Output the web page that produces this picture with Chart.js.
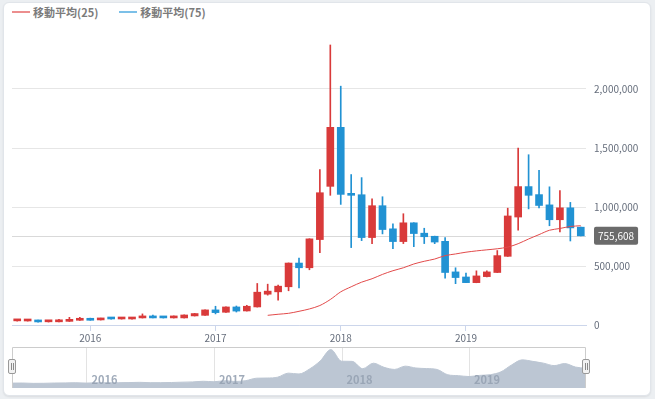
<!DOCTYPE html>
<html lang="ja">
<head>
<meta charset="utf-8">
<script src="https://cdn.jsdelivr.net/npm/chart.js@4.4.1/dist/chart.umd.min.js"></script>
<style>
  html, body { margin: 0; padding: 0; }
  body {
    width: 655px; height: 399px; position: relative; overflow: hidden;
    background: #eceff2;
    font-family: 'Noto Sans CJK JP', 'Noto Sans', sans-serif;
  }
  .card {
    position: absolute; left: 3px; top: 2px; width: 646px; height: 392px;
    background: #fff; border: 1px solid #e1e5ea; border-radius: 6px;
    box-shadow: 0 1px 2px rgba(0, 0, 0, 0.08);
  }
  #legend {
    position: absolute; left: 12px; top: 4px; height: 16px; display: flex;
    font-size: 11px; font-weight: bold; color: #7b7b7b; line-height: 16px;
  }
  .legend-item { display: flex; align-items: center; margin-right: 21px; }
  .legend-line { width: 18px; height: 2px; margin-right: 3px; }
  #mainChart { position: absolute; left: 0; top: 0; }
  #navChart { position: absolute; left: 12px; top: 347px; }
  .handle {
    position: absolute; top: 359px; width: 8px; height: 15px; box-sizing: border-box;
    background: #f2f2f2; border: 1px solid #999; border-radius: 2px;
  }
  .handle::before, .handle::after {
    content: ''; position: absolute; top: 3px; width: 1px; height: 7px; background: #8a8a8a;
  }
  .handle::before { left: 2px; }
  .handle::after { left: 4px; }
</style>
</head>
<body>
<div class="card"></div>
<div id="legend"></div>
<canvas id="mainChart" width="655" height="347"></canvas>
<canvas id="navChart" width="574" height="41"></canvas>
<div class="handle" style="left: 8px;"></div>
<div class="handle" style="left: 582px;"></div>

<script>
// Monthly candles, 2015/06 - 2019/12
const months = [
    '2015/06', '2015/07', '2015/08', '2015/09', '2015/10', '2015/11', '2015/12',
    '2016/01', '2016/02', '2016/03', '2016/04', '2016/05', '2016/06', '2016/07', '2016/08', '2016/09', '2016/10', '2016/11', '2016/12',
    '2017/01', '2017/02', '2017/03', '2017/04', '2017/05', '2017/06', '2017/07', '2017/08', '2017/09', '2017/10', '2017/11', '2017/12',
    '2018/01', '2018/02', '2018/03', '2018/04', '2018/05', '2018/06', '2018/07', '2018/08', '2018/09', '2018/10', '2018/11', '2018/12',
    '2019/01', '2019/02', '2019/03', '2019/04', '2019/05', '2019/06', '2019/07', '2019/08', '2019/09', '2019/10', '2019/11', '2019/12'
];

const opens = [
    35000, 34000, 40000, 27000, 27000, 31000, 40000,
    57000, 43000, 57000, 51000, 51000, 60000, 77000, 65000, 60000, 60000, 77000, 82000,
    128000, 108000, 153000, 119000, 153000, 261000, 281000, 324000, 525000, 485000, 724000, 1175000,
    1675000, 1116000, 1104000, 741000, 1011000, 815000, 707000, 866000, 778000, 752000, 709000, 450000,
    407000, 359000, 410000, 445000, 582000, 915000, 1173000, 1105000, 1018000, 892000, 993000, 829000
];
const highs = [
    39000, 48000, 41000, 31000, 48000, 65000, 65000,
    58000, 58000, 58000, 58000, 66000, 94000, 85000, 66000, 77000, 86000, 98000, 129000,
    159000, 153000, 161000, 167000, 352000, 346000, 338000, 526000, 568000, 731000, 1317000, 2373000,
    2024000, 1275000, 1249000, 1070000, 1087000, 857000, 943000, 867000, 820000, 753000, 740000, 485000,
    439000, 459000, 459000, 631000, 990000, 1500000, 1443000, 1311000, 1171000, 1139000, 1039000, 830000
];
const lows = [
    33000, 33000, 25000, 25000, 26000, 30000, 39000,
    40000, 42000, 50000, 50000, 50000, 59000, 59000, 59000, 59000, 59000, 76000, 81000,
    94000, 107000, 110000, 118000, 152000, 253000, 210000, 290000, 315000, 468000, 613000, 1099000,
    1022000, 656000, 715000, 690000, 772000, 647000, 690000, 664000, 690000, 689000, 396000, 350000,
    358000, 358000, 407000, 444000, 581000, 803000, 984000, 993000, 841000, 789000, 712000, 755000
];
const closes = [
    38000, 43000, 26000, 30000, 43000, 48000, 57000,
    40000, 57000, 51000, 57000, 65000, 77000, 60000, 60000, 68000, 85000, 97000, 128000,
    105000, 153000, 118000, 159000, 278000, 287000, 329000, 525000, 485000, 730000, 1121000, 1675000,
    1107000, 1099000, 741000, 1011000, 809000, 707000, 866000, 775000, 748000, 703000, 445000, 402000,
    359000, 416000, 450000, 588000, 924000, 1173000, 1099000, 1013000, 892000, 993000, 823000, 755608
];

// moving averages as drawn (MA75 has no points in this range)
const ma25 = [
    null, null, null, null, null, null, null,
    null, null, null, null, null, null, null, null, null, null, null, null,
    null, null, null, null, null, 82000, 91000, 99000, 116000, 136000, 165000, 216000,
    281000, 324000, 363000, 392000, 429000, 460000, 485000, 517000, 540000, 559000, 588000, 602000,
    617000, 628000, 637000, 646000, 660000, 689000, 729000, 766000, 803000, 818000, 835000, 841000
];
const ma75 = months.map(() => null);

const yTicks = [0, 500000, 1000000, 1500000, 2000000];

const upColor = '#d93a3a';
const downColor = '#2192d3';
const lastPrice = closes[closes.length - 1];
const fontFamily = "'Noto Sans CJK JP', 'Noto Sans', sans-serif";

Chart.defaults.font.family = fontFamily;

const isJan = i => months[i] && months[i].endsWith('/01');
const yearOf = i => months[i].slice(0, 4);
const fmt = v => v.toLocaleString('en-US');

const candleColors = opens.map((o, i) => closes[i] >= o ? upColor : downColor);
const wickData = lows.map((l, i) => [l, highs[i]]);
const bodyData = opens.map((o, i) => [Math.min(o, closes[i]), Math.max(o, closes[i])]);

// current price line + label on the right axis
const lastPricePlugin = {
    id: 'lastPrice',
    beforeDatasetsDraw(chart) {
        const { ctx, chartArea, scales: { y } } = chart;
        const py = Math.round(y.getPixelForValue(lastPrice)) + 0.5;
        ctx.save();
        ctx.strokeStyle = '#d9d9d9';
        ctx.lineWidth = 1;
        ctx.beginPath();
        ctx.moveTo(chartArea.left, py);
        ctx.lineTo(chartArea.right, py);
        ctx.stroke();
        ctx.restore();
    },
    afterDraw(chart) {
        const { ctx, chartArea, scales: { y } } = chart;
        const py = y.getPixelForValue(lastPrice);
        const text = fmt(lastPrice);
        ctx.save();
        ctx.font = '10px ' + fontFamily;
        const w = ctx.measureText(text).width + 8;
        const x = chartArea.right + 8;
        ctx.fillStyle = '#6b6b6b';
        ctx.beginPath();
        ctx.roundRect(x, py - 9, w, 18, 2);
        ctx.fill();
        ctx.fillStyle = '#ffffff';
        ctx.textBaseline = 'middle';
        ctx.fillText(text, x + 4, py + 0.5);
        ctx.restore();
    }
};

const mainChart = new Chart(document.getElementById('mainChart'), {
    type: 'bar',
    data: {
        labels: months,
        datasets: [
            {
                type: 'line',
                label: '移動平均(25)',
                data: ma25,
                borderColor: '#e24a4a',
                borderWidth: 1,
                pointRadius: 0,
                tension: 0.3,
                order: 0,
                legendColor: '#ec8e8e'
            },
            {
                type: 'line',
                label: '移動平均(75)',
                data: ma75,
                borderColor: '#2192d3',
                borderWidth: 1,
                pointRadius: 0,
                order: 0,
                legendColor: '#7cc0e8'
            },
            {
                label: 'body',
                data: bodyData,
                backgroundColor: candleColors,
                barThickness: 7,
                minBarLength: 2,
                grouped: false,
                order: 1
            },
            {
                label: 'wick',
                data: wickData,
                backgroundColor: candleColors,
                barThickness: 1,
                grouped: false,
                order: 2
            }
        ]
    },
    options: {
        responsive: false,
        animation: false,
        devicePixelRatio: 1,
        layout: { padding: { left: 12, top: 30, right: 0, bottom: 0 } },
        plugins: {
            legend: { display: false },
            tooltip: { enabled: false }
        },
        scales: {
            x: {
                offset: true,
                border: { color: '#ccd6eb', width: 1 },
                grid: {
                    offset: false,
                    drawOnChartArea: false,
                    drawTicks: true,
                    tickLength: 6,
                    color: ctx => isJan(ctx.index) ? '#ccd6eb' : 'rgba(0,0,0,0)'
                },
                ticks: {
                    autoSkip: false,
                    maxRotation: 0,
                    padding: 1,
                    color: '#666e7c',
                    font: { size: 10 },
                    callback: (v, i) => isJan(i) ? yearOf(i) : ''
                },
                afterFit: s => { s.height = 22; }
            },
            y: {
                position: 'right',
                min: 0,
                max: 2500000,
                border: { display: false },
                grid: { color: '#e6e6e6', drawTicks: false },
                ticks: {
                    padding: 8,
                    color: '#666e7c',
                    font: { size: 10 },
                    callback: v => fmt(v)
                },
                afterBuildTicks: s => { s.ticks = yTicks.map(v => ({ value: v })); },
                afterFit: s => { s.width = 69; }
            }
        }
    },
    plugins: [lastPricePlugin]
});

// html legend from the line datasets
const legendEl = document.getElementById('legend');
legendEl.innerHTML = mainChart.data.datasets
    .filter(ds => ds.type === 'line')
    .map(ds => `
        <div class="legend-item">
            <span class="legend-line" style="background:${ds.legendColor}"></span>
            <span>${ds.label}</span>
        </div>
    `).join('');

// navigator: year grid, year labels and outline
const navigatorPlugin = {
    id: 'navigator',
    beforeDatasetsDraw(chart) {
        const { ctx, chartArea, scales: { x } } = chart;
        ctx.save();
        ctx.strokeStyle = '#e3e3e3';
        ctx.lineWidth = 1;
        months.forEach((m, i) => {
            if (!isJan(i)) return;
            const px = Math.round(x.getPixelForValue(i)) + 0.5;
            ctx.beginPath();
            ctx.moveTo(px, chartArea.top);
            ctx.lineTo(px, chartArea.bottom);
            ctx.stroke();
        });
        ctx.restore();
    },
    afterDraw(chart) {
        const { ctx, chartArea, scales: { x } } = chart;
        ctx.save();
        ctx.font = 'bold 11px ' + fontFamily;
        ctx.fillStyle = 'rgba(150, 162, 178, 0.9)';
        ctx.textBaseline = 'alphabetic';
        months.forEach((m, i) => {
            if (!isJan(i)) return;
            ctx.fillText(yearOf(i), x.getPixelForValue(i) + 5, chartArea.bottom - 4);
        });
        ctx.strokeStyle = '#cccccc';
        ctx.lineWidth = 1;
        ctx.beginPath();
        ctx.moveTo(0.5, chart.height);
        ctx.lineTo(0.5, 0.5);
        ctx.lineTo(chart.width - 0.5, 0.5);
        ctx.lineTo(chart.width - 0.5, chart.height);
        ctx.stroke();
        ctx.restore();
    }
};

new Chart(document.getElementById('navChart'), {
    type: 'line',
    data: {
        labels: months,
        datasets: [{
            data: closes,
            borderColor: '#bcc6d3',
            backgroundColor: '#bcc6d3',
            borderWidth: 1,
            pointRadius: 0,
            fill: 'start',
            cubicInterpolationMode: 'monotone'
        }]
    },
    options: {
        responsive: false,
        animation: false,
        devicePixelRatio: 1,
        layout: { padding: 0 },
        plugins: {
            legend: { display: false },
            tooltip: { enabled: false }
        },
        scales: {
            x: { display: false, offset: false },
            y: { display: false, min: -200000, max: 1800000 }
        }
    },
    plugins: [navigatorPlugin]
});
</script>
</body>
</html>
